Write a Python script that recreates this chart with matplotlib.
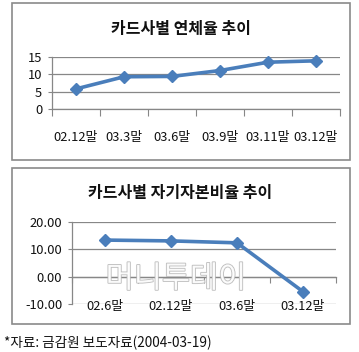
import matplotlib
matplotlib.use("Agg")
import matplotlib.pyplot as plt
import matplotlib.patheffects as pe
from matplotlib.patches import Rectangle

plt.rcParams['font.family'] = ['Noto Sans CJK KR', 'DejaVu Sans']

# ---- data ----
title1 = "카드사별 연체율 추이"
cats1 = ["02.12말", "03.3말", "03.6말", "03.9말", "03.11말", "03.12말"]
vals1 = [5.8, 9.3, 9.4, 11.1, 13.5, 13.9]
yticks1 = [0, 5, 10, 15]

title2 = "카드사별 자기자본비율 추이"
cats2 = ["02.6말", "02.12말", "03.6말", "03.12말"]
vals2 = [13.3, 13.0, 12.3, -5.5]
yticks2 = [-10, 0, 10, 20]

source = "*자료: 금감원 보도자료(2004-03-19)"
watermark = "머니투데이"

W, H = 359, 352
LINE = "#4A7EBB"
GRID = "#878787"
TXT = "#111111"
TS = 9.3
fig = plt.figure(figsize=(W / 100, H / 100), dpi=100)

def fx(px):
    return px / W

def fy(py):
    return 1 - py / H

# chart boxes
for (x0, y0, x1, y1) in [(11.5, 3, 350, 160), (11.5, 167.5, 350, 324)]:
    fig.add_artist(Rectangle((fx(x0), fy(y1)), fx(x1) - fx(x0), fy(y0) - fy(y1),
                             transform=fig.transFigure, fill=False,
                             edgecolor="#8a8a8a", linewidth=1.2))

# ---- top chart ----
ax1 = fig.add_axes([fx(52), fy(109), fx(340) - fx(52), fy(57) - fy(109)])
x1 = list(range(len(cats1)))
ax1.plot(x1, vals1, color=LINE, linewidth=2.6, marker="D", markersize=6,
         markerfacecolor=LINE, markeredgecolor=LINE, zorder=3, clip_on=False)
ax1.set_xlim(-0.5, len(cats1) - 0.5)
ax1.set_ylim(0, 15)
ax1.set_yticks(yticks1)
ax1.set_yticklabels([str(v) for v in yticks1], fontsize=TS, color=TXT)
ax1.yaxis.grid(True, color=GRID, linewidth=0.9)
ax1.set_axisbelow(True)
ax1.set_xticks([i + 0.5 for i in range(-1, len(cats1))], minor=False)
ax1.set_xticklabels([""] * (len(cats1) + 1))
ax1.set_xticks(x1, minor=True)
ax1.set_xticklabels(cats1, minor=True, fontsize=TS, color=TXT)
ax1.tick_params(axis="x", which="major", length=5, color=GRID, direction="out")
ax1.tick_params(axis="x", which="minor", length=0, pad=16)
ax1.tick_params(axis="y", length=3, color=GRID, pad=4)
for s in ["top", "right"]:
    ax1.spines[s].set_visible(False)
for s in ["left", "bottom"]:
    ax1.spines[s].set_color(GRID)
    ax1.spines[s].set_linewidth(0.9)
ax1.set_facecolor("none")
fig.text(fx(181), fy(29), title1, ha="center", va="center", fontsize=11.5,
         fontweight="bold", color=TXT)

# ---- bottom chart ----
ax2 = fig.add_axes([fx(72), fy(304), fx(336) - fx(72), fy(221.7) - fy(304)])
x2 = list(range(len(cats2)))
ax2.plot(x2, vals2, color=LINE, linewidth=2.6, marker="D", markersize=6,
         markerfacecolor=LINE, markeredgecolor=LINE, zorder=3, clip_on=False)
ax2.set_xlim(-0.5, len(cats2) - 0.5)
ax2.set_ylim(-10, 20)
ax2.set_yticks(yticks2)
ax2.set_yticklabels([f"{v:.2f}" for v in yticks2], fontsize=TS, color=TXT)
ax2.yaxis.grid(True, color=GRID, linewidth=0.9)
ax2.set_axisbelow(True)
ax2.spines["bottom"].set_position(("data", 0))
ax2.set_xticks([i + 0.5 for i in range(-1, len(cats2))], minor=False)
ax2.set_xticklabels([""] * (len(cats2) + 1))
ax2.set_xticks(x2, minor=True)
ax2.set_xticklabels(cats2, minor=True, fontsize=TS, color=TXT)
ax2.tick_params(axis="x", which="major", length=4, color=GRID, direction="out")
ax2.tick_params(axis="x", which="minor", length=0, pad=17)
ax2.tick_params(axis="y", length=3, color=GRID, pad=4)
for s in ["top", "right"]:
    ax2.spines[s].set_visible(False)
for s in ["left", "bottom"]:
    ax2.spines[s].set_color(GRID)
    ax2.spines[s].set_linewidth(0.9)
ax2.set_facecolor("none")
fig.text(fx(180), fy(193), title2, ha="center", va="center", fontsize=11.5,
         fontweight="bold", color=TXT)

# watermark
fig.text(fx(176), fy(279), watermark, ha="center", va="center", fontsize=22,
         color="white", alpha=0.9, zorder=5,
         path_effects=[pe.withStroke(linewidth=1.2, foreground="#b5b5b5")])

# source
fig.text(fx(4), fy(343), source, ha="left", va="center", fontsize=9.8,
         color=TXT)

fig.savefig("out.png", dpi=100)
